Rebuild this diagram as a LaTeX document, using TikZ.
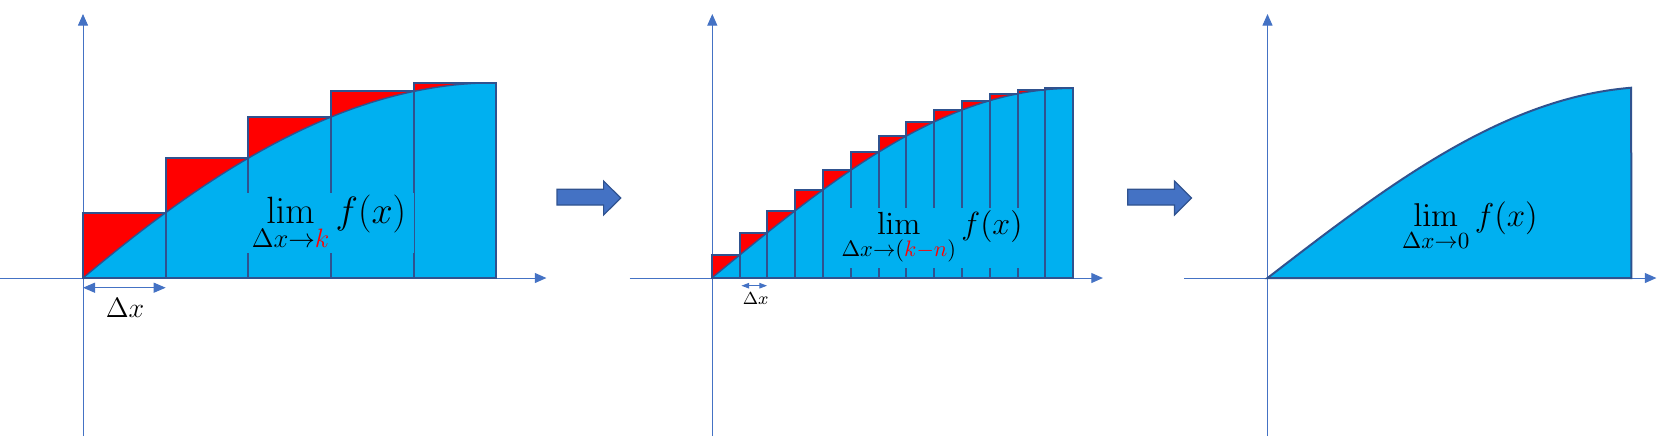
\RequirePackage{fix-cm}
\documentclass[tikz,border=0pt]{standalone}
\usepackage{amsmath}
\usepackage{tikz}
\usetikzlibrary{arrows.meta}
\definecolor{axisblue}{HTML}{4472C4}
\definecolor{edgeblue}{HTML}{2F528F}
\definecolor{areablue}{HTML}{00B0F0}
\tikzstyle{axis} = [axisblue, line width=0.5pt, -{Triangle[length=5.8pt,width=5pt]}]
\tikzstyle{gap} = [axisblue, line width=0.6pt, {Triangle[length=6pt,width=5pt]}-{Triangle[length=6pt,width=5pt]}]
\tikzstyle{smallgap} = [axisblue, line width=0.5pt, {Triangle[length=3.9pt,width=2.8pt]}-{Triangle[length=3.9pt,width=2.8pt]}]
\tikzstyle{bigarrow} = [fill=axisblue, draw=edgeblue, line width=0.6pt]

\begin{document}
\begin{tikzpicture}[x=0.5pt, y=-0.5pt,
limnode/.style={fill=areablue, inner sep=0pt, text=black},
baredge/.style={draw=edgeblue, line width=1pt},
curve/.style={draw=edgeblue, line width=0.7pt}
]
\useasboundingbox (0,0) rectangle (1671,436);

% left: five bars
\coordinate (O1) at (83,278);
\coordinate (XL1) at (0,278);
\coordinate (XR1) at (546.4,278);
\coordinate (YB1) at (83,436);
\coordinate (YT1) at (83,14);
\draw[axis] (XL1) -- (XR1);
\draw[axis] (YB1) -- (YT1);
\foreach \i in {1,...,5}{
  \pgfmathsetmacro{\xa}{83+82.68*(\i-1)}
  \pgfmathsetmacro{\xb}{83+82.68*\i}
  \pgfmathsetmacro{\h}{195.3*(0.5*sin(18*\i)+0.5*(1-(1-\i/5)^2))}
  \fill[red] (\xa,278) rectangle (\xb,278-\h);
}
\fill[areablue] (O1) -- plot[domain=0:1, samples=50] ({83+413.4*\x},{278-195.3*(0.5*sin(90*\x)+0.5*(1-(1-\x)^2))}) -- (496.4,278) -- cycle;
\foreach \i in {1,...,5}{
  \pgfmathsetmacro{\xa}{83+82.68*(\i-1)}
  \pgfmathsetmacro{\xb}{83+82.68*\i}
  \pgfmathsetmacro{\h}{195.3*(0.5*sin(18*\i)+0.5*(1-(1-\i/5)^2))}
  \draw[baredge] (\xa,278) rectangle (\xb,278-\h);
}
\draw[curve] plot[domain=0:1, samples=50] ({83+413.4*\x},{278-195.3*(0.5*sin(90*\x)+0.5*(1-(1-\x)^2))});
\node[limnode, minimum width=84.7pt, minimum height=30pt, font=\fontsize{19}{23}\selectfont] (lim1) at (329,223) {$\displaystyle\lim_{\Delta x\to\textcolor{red}{k}} f(x)$};
\coordinate (DA1) at (83,287.7);
\coordinate (DB1) at (165.7,287.7);
\draw[gap] (DA1) -- (DB1);
\node[font=\fontsize{14}{17}\selectfont] (dx1) at (125,308.3) {$\Delta x$};

% middle: thirteen bars
\coordinate (O2) at (711.8,278);
\coordinate (XL2) at (629.6,278);
\coordinate (XR2) at (1102.9,278);
\coordinate (YB2) at (712.3,436);
\coordinate (YT2) at (712.3,14);
\draw[axis] (XL2) -- (XR2);
\draw[axis] (YB2) -- (YT2);
\foreach \i in {1,...,13}{
  \pgfmathsetmacro{\xa}{711.8+27.8*(\i-1)}
  \pgfmathsetmacro{\xb}{711.8+27.8*\i}
  \pgfmathsetmacro{\h}{189.7*sin(90*\i/13)}
  \fill[red] (\xa,278) rectangle (\xb,278-\h);
}
\fill[areablue] (O2) -- plot[domain=0:1, samples=60] ({711.8+361.4*\x},{278-189.7*sin(90*\x)}) -- (1073.2,278) -- cycle;
\foreach \i in {1,...,13}{
  \pgfmathsetmacro{\xa}{711.8+27.8*(\i-1)}
  \pgfmathsetmacro{\xb}{711.8+27.8*\i}
  \pgfmathsetmacro{\h}{189.7*sin(90*\i/13)}
  \draw[baredge] (\xa,278) rectangle (\xb,278-\h);
}
\draw[curve] plot[domain=0:1, samples=60] ({711.8+361.4*\x},{278-189.7*sin(90*\x)});
\node[limnode, minimum width=92.5pt, minimum height=30pt, font=\fontsize{16}{19}\selectfont] (lim2) at (932,238) {$\displaystyle\lim_{\Delta x\to(\textcolor{red}{k-n})} f(x)$};
\coordinate (DA2) at (741.4,285.7);
\coordinate (DB2) at (767.1,285.7);
\draw[smallgap] (DA2) -- (DB2);
\node[font=\fontsize{8.7}{10}\selectfont] (dx2) at (755.7,299) {$\Delta x$};

% right: the limit
\coordinate (O3) at (1267.5,278);
\coordinate (XL3) at (1184.3,278);
\coordinate (XR3) at (1656.4,278);
\coordinate (YB3) at (1267.5,436);
\coordinate (YT3) at (1267.5,14);
\draw[axis] (XL3) -- (XR3);
\draw[axis] (YB3) -- (YT3);
\draw[baredge, fill=areablue] (O3) -- plot[domain=0:1, samples=60] ({1267.5+363.9*\x},{278-190.3*sin(84*\x)/sin(84)}) -- (1631.4,278) -- cycle;
\node[font=\fontsize{16.5}{20}\selectfont] (lim3) at (1470,227) {$\displaystyle\lim_{\Delta x\to0} f(x)$};

% block arrows between the pictures
\foreach \s in {0,570.8}
  \draw[bigarrow] ({557+\s},189.3) -- ({603.6+\s},189.3) -- ({603.6+\s},181) -- ({620.7+\s},198) -- ({603.6+\s},215) -- ({603.6+\s},205) -- ({557+\s},205) -- cycle;
\end{tikzpicture}
\end{document}
